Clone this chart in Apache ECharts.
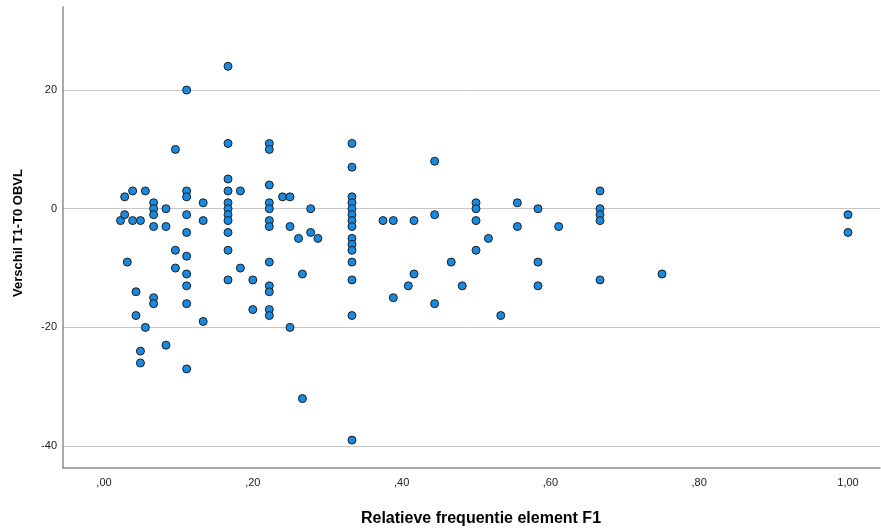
<!DOCTYPE html>
<html>
<head>
<meta charset="utf-8">
<script src="https://cdn.jsdelivr.net/npm/echarts@6/dist/echarts.min.js"></script>
<style>html,body{margin:0;padding:0;background:#fff;}#c{width:881px;height:529px;}</style>
</head>
<body>
<div id="c"></div>
<script>
// Relative frequency of element F1 (x), one entry per column of points
const frequency = [0.0222, 0.0278, 0.0313, 0.0385, 0.043, 0.049, 0.0556, 0.0667, 0.0833, 0.096,
  0.1111, 0.1333, 0.1667, 0.1833, 0.2, 0.2222, 0.24, 0.25, 0.2615, 0.2667,
  0.2778, 0.2875, 0.3333, 0.375, 0.3889, 0.409, 0.4167, 0.4444, 0.4667, 0.4815,
  0.5, 0.5167, 0.5333, 0.5556, 0.5833, 0.6111, 0.6667, 0.75, 1.0];
// Verschil T1-T0 OBVL values for each column above
const difference = [
  [-2], [2, -1], [-9], [3, -2], [-14, -18], [-2, -24, -26], [3, -20], [1, 0, -1, -3, -15, -16], [0, -3, -23], [10, -7, -10],
  [20, 3, 2, -1, -4, -8, -11, -13, -16, -27], [1, -2, -19], [24, 11, 5, 3, 1, 0, -1, -2, -4, -7, -12], [3, -10], [-12, -17],
  [11, 10, 4, 1, 0, -2, -3, -9, -13, -14, -17, -18], [2], [2, -3, -20], [-5], [-11, -32],
  [0, -4], [-5], [11, 7, 2, 1, 0, -1, -2, -3, -5, -6, -7, -9, -12, -18, -39], [-2], [-2, -15], [-13], [-2, -11], [8, -1, -16], [-9], [-13],
  [1, 0, -2, -7], [-5], [-18], [1, -3], [0, -9, -13], [-3], [3, 0, -1, -2, -12], [-11], [-1, -4]
];
const xTitle = 'Relatieve frequentie element F1';
const yTitle = 'Verschil T1-T0 OBVL';

const points = [];
frequency.forEach((f, i) => difference[i].forEach(d => points.push([f, d])));

const chart = echarts.init(document.getElementById('c'), null, {renderer: 'canvas'});
chart.setOption({
  animation: false,
  backgroundColor: '#ffffff',
  grid: {left: 63, right: 1, top: 7, bottom: 61, containLabel: false, outerBoundsMode: 'none'},
  xAxis: {
    type: 'value', min: -0.0551, max: 1.043,
    name: xTitle, nameLocation: 'middle', nameGap: 43,
    nameTextStyle: {fontFamily: 'Liberation Sans', fontSize: 16, fontWeight: 'bold', color: '#000', padding: [0, 0, 0, 19]},
    axisLine: {show: true, onZero: false, lineStyle: {color: '#8c8c8c', width: 1.5}},
    axisTick: {show: false},
    splitLine: {show: false},
    axisLabel: {
      showMinLabel: false, showMaxLabel: false, margin: 9,
      fontFamily: 'Liberation Sans', fontSize: 11, color: '#222',
      formatter: v => { let s = v.toFixed(2).replace('.', ','); if (s.startsWith('0,')) s = s.slice(1); return s; }
    }
  },
  yAxis: {
    type: 'value', min: -43.7, max: 34,
    name: yTitle, nameLocation: 'middle', nameGap: 38, nameRotate: 90,
    nameTextStyle: {fontFamily: 'Liberation Sans', fontSize: 13, fontWeight: 'bold', color: '#000', padding: [0, 0, 0, 9]},
    axisLine: {show: true, onZero: false, lineStyle: {color: '#8c8c8c', width: 1.5}},
    axisTick: {show: false},
    splitLine: {show: true, showMinLine: false, showMaxLine: false, lineStyle: {color: '#c8c8c8', width: 1}},
    axisLabel: {showMinLabel: false, showMaxLabel: false, margin: 6, fontFamily: 'Liberation Sans', fontSize: 11, color: '#222'}
  },
  series: [{
    type: 'scatter',
    data: points,
    symbol: 'circle',
    symbolSize: 8,
    itemStyle: {color: '#1a8ae0', borderColor: '#1e1e1e', borderWidth: 1, opacity: 1}
  }]
});
</script>
</body>
</html>
